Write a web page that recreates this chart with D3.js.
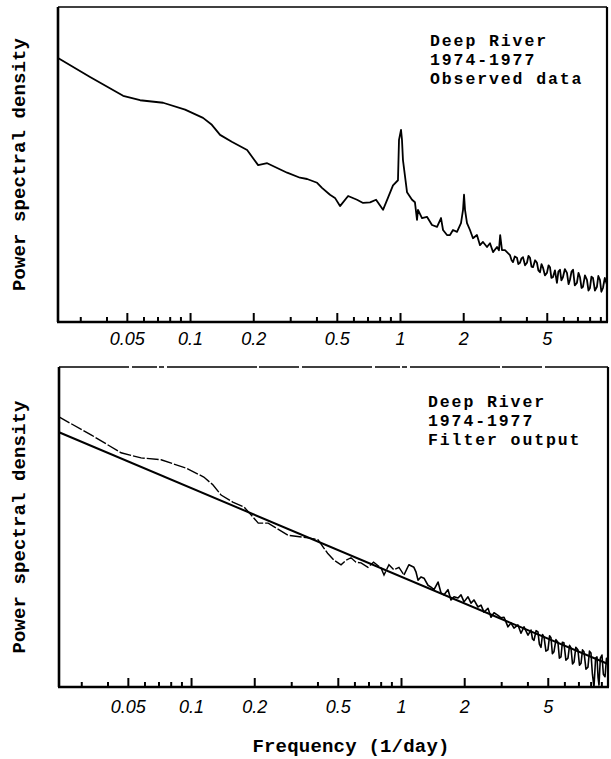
<!DOCTYPE html>
<html>
<head>
<meta charset="utf-8">
<script src="https://cdn.jsdelivr.net/npm/d3@7"></script>
<style>
    body { margin: 0; background: #fff; }
    svg { display: block; }
</style>
</head>
<body>
<div id="back"></div>
<script>

// Observed spectrum (log10 of power spectral density, arbitrary units)
var obsFreq = [0.0235, 0.0334, 0.0480, 0.0578, 0.0744, 0.0947, 0.1153, 0.127, 0.139, 0.158,
    0.187, 0.211, 0.233, 0.290, 0.334, 0.361, 0.403, 0.425, 0.464, 0.490,
    0.518, 0.566, 0.624, 0.667, 0.720, 0.769, 0.830, 0.876, 0.926, 0.978,
    0.989, 1.011, 1.022, 1.033, 1.080, 1.141, 1.178, 1.205, 1.218, 1.273,
    1.344, 1.420, 1.501, 1.568, 1.603, 1.674, 1.730, 1.788, 1.868, 1.952,
    1.996, 2.018, 2.04, 2.085, 2.154, 2.226, 2.325, 2.404, 2.484, 2.596,
    2.683, 2.773, 2.897, 2.96, 3.0, 3.06, 3.163, 3.341, 3.40, 3.453,
    3.52, 3.606, 3.66, 3.728, 3.79, 3.853, 3.94, 4.025, 4.09, 4.160,
    4.23, 4.30, 4.40, 4.49, 4.56, 4.642, 4.72, 4.80, 4.90, 5.01,
    5.10, 5.18, 5.26, 5.35, 5.47, 5.59, 5.68, 5.78, 5.87, 5.97,
    6.10, 6.24, 6.35, 6.45, 6.56, 6.67, 6.80, 6.96, 7.08, 7.20,
    7.32, 7.44, 7.60, 7.77, 7.90, 8.03, 8.16, 8.30, 8.48, 8.67,
    8.80, 8.96, 9.10, 9.26, 9.45, 9.68];
var obsPsd = [1.19, 0.89, 0.59, 0.52, 0.48, 0.37, 0.24, 0.13, -0.03, -0.14,
    -0.27, -0.51, -0.48, -0.63, -0.71, -0.73, -0.79, -0.87, -0.98, -1.03,
    -1.16, -1.00, -1.06, -1.11, -1.10, -1.06, -1.22, -1.03, -0.83, -0.75,
    -0.11, 0.05, -0.11, -0.43, -0.94, -1.06, -1.10, -1.38, -1.22, -1.35,
    -1.33, -1.46, -1.49, -1.35, -1.54, -1.62, -1.62, -1.54, -1.57, -1.43,
    -1.22, -0.98, -1.22, -1.43, -1.54, -1.67, -1.62, -1.78, -1.73, -1.81,
    -1.75, -1.89, -1.81, -1.86, -1.62, -1.86, -1.86, -1.94, -2.02, -2.05,
    -1.96, -1.98, -2.08, -2.06, -1.99, -1.97, -2.10, -2.06, -1.95, -1.98,
    -2.12, -2.13, -2.02, -2.06, -2.18, -2.21, -2.08, -2.14, -2.26, -2.22,
    -2.10, -2.13, -2.30, -2.29, -2.18, -2.38, -2.20, -2.17, -2.34, -2.29,
    -2.16, -2.22, -2.40, -2.33, -2.20, -2.17, -2.42, -2.38, -2.22, -2.29,
    -2.46, -2.44, -2.26, -2.33, -2.50, -2.46, -2.28, -2.30, -2.50, -2.44,
    -2.27, -2.33, -2.52, -2.46, -2.30, -2.41];

// Filter output spectrum
var filtFreq = [0.0235, 0.0334, 0.0464, 0.0578, 0.072, 0.0947, 0.115, 0.127, 0.139, 0.158,
    0.179, 0.193, 0.209, 0.233, 0.290, 0.361, 0.403, 0.425, 0.447, 0.48,
    0.518, 0.547, 0.578, 0.61, 0.645, 0.696, 0.74, 0.803, 0.830, 0.876,
    0.926, 0.978, 1.033, 1.09, 1.152, 1.178, 1.205, 1.245, 1.287, 1.344,
    1.389, 1.436, 1.501, 1.551, 1.603, 1.674, 1.730, 1.788, 1.868, 1.931,
    1.996, 2.085, 2.154, 2.226, 2.325, 2.404, 2.484, 2.596, 2.683, 2.773,
    2.897, 2.994, 3.095, 3.232, 3.341, 3.453, 3.606, 3.728, 3.853, 4.025,
    4.160, 4.23, 4.30, 4.40, 4.49, 4.56, 4.642, 4.72, 4.80, 4.90,
    5.01, 5.10, 5.18, 5.26, 5.35, 5.47, 5.59, 5.68, 5.78, 5.87,
    5.97, 6.10, 6.24, 6.35, 6.45, 6.56, 6.67, 6.80, 6.96, 7.08,
    7.20, 7.32, 7.44, 7.60, 7.77, 7.90, 8.03, 8.16, 8.30, 8.45,
    8.58, 8.68, 8.77, 8.90, 9.06, 9.20, 9.37, 9.52, 9.68];
var filtPsd = [1.22, 0.94, 0.66, 0.58, 0.55, 0.42, 0.28, 0.16, 0.00, -0.11,
    -0.19, -0.31, -0.44, -0.44, -0.63, -0.67, -0.70, -0.81, -0.91, -1.02,
    -1.09, -1.02, -0.98, -1.05, -1.06, -1.13, -1.05, -1.14, -1.25, -1.09,
    -1.17, -1.13, -1.25, -1.09, -1.13, -1.20, -1.33, -1.28, -1.30, -1.41,
    -1.44, -1.48, -1.36, -1.53, -1.56, -1.48, -1.64, -1.59, -1.61, -1.56,
    -1.67, -1.59, -1.69, -1.64, -1.75, -1.72, -1.83, -1.77, -1.91, -1.84,
    -1.88, -1.92, -1.91, -2.06, -2.00, -2.08, -2.03, -2.16, -2.06, -2.19,
    -2.11, -2.25, -2.27, -2.12, -2.14, -2.33, -2.38, -2.18, -2.22, -2.44,
    -2.42, -2.20, -2.23, -2.48, -2.45, -2.26, -2.30, -2.55, -2.53, -2.30,
    -2.31, -2.58, -2.55, -2.35, -2.39, -2.64, -2.61, -2.38, -2.42, -2.66,
    -2.63, -2.42, -2.45, -2.72, -2.69, -2.44, -2.47, -2.80, -3.00, -2.55,
    -2.53, -2.85, -2.97, -2.55, -2.50, -2.80, -2.84, -2.55, -2.58];

// Fitted straight line (filter model)
var fitFreq = [0.0235, 9.68];
var fitPsd = [0.98, -2.64];

// Axis ticks
var majorTicks = [0.05, 0.1, 0.2, 0.5, 1, 2, 5];
var majorLabels = ["0.05", "0.1", "0.2", "0.5", "1", "2", "5"];
var minorTicks = [0.03, 0.04, 0.06, 0.07, 0.08, 0.09, 0.3, 0.4, 0.6, 0.7, 0.8, 0.9, 3, 4, 6, 7, 8, 9];

var annotTop = ["Deep River", "1974-1977", "Observed data"];
var annotBottom = ["Deep River", "1974-1977", "Filter output"];


var chart = {

    settings : {
        width : 611,//px
        height : 759,//px
        freqDomain : [0.0235, 9.68],
        psdDomain : [-3, 2],
        dashBelow : 1.05,// filter curve is drawn broken below this frequency
        monoFont : "'Liberation Mono', 'DejaVu Sans Mono', monospace",
        tickFont : "'Liberation Sans', Arial, sans-serif",
    },

    addPanel : function(svg, p){

        var s = chart.settings;
        var g = svg.append("g");

        var x = d3.scaleLog().domain(s.freqDomain).range([p.left, p.right]);
        var y = d3.scaleLinear().domain(s.psdDomain).range([p.bottom, p.top]);

        // frame
        g.append("line")
            .attr("x1", p.left).attr("x2", p.right)
            .attr("y1", p.top).attr("y2", p.top)
            .attr("stroke", "#000").attr("stroke-width", 1.6)
            .attr("stroke-dasharray", p.topDash);
        g.append("line")
            .attr("x1", p.left).attr("x2", p.left)
            .attr("y1", p.top).attr("y2", p.bottom)
            .attr("stroke", "#000").attr("stroke-width", 2.6);
        g.append("line")
            .attr("x1", p.right).attr("x2", p.right)
            .attr("y1", p.top).attr("y2", p.bottom)
            .attr("stroke", "#000").attr("stroke-width", 2.2);
        g.append("line")
            .attr("x1", p.left - 1).attr("x2", p.right + 1)
            .attr("y1", p.bottom).attr("y2", p.bottom)
            .attr("stroke", "#000").attr("stroke-width", 2.4);

        // minor ticks, pointing inward
        var minorAxis = g.append("g")
            .attr("transform", "translate(0," + p.bottom + ")")
            .call(d3.axisBottom(x).tickValues(minorTicks).tickSize(-5).tickFormat(""));
        minorAxis.select(".domain").remove();
        minorAxis.selectAll("line").attr("stroke-width", 2);

        // major ticks with labels
        var majorAxis = g.append("g")
            .attr("transform", "translate(0," + p.bottom + ")")
            .call(d3.axisBottom(x).tickValues(majorTicks).tickSize(-9).tickPadding(p.labelPad)
                .tickFormat(function(d, i){ return majorLabels[i]; }));
        majorAxis.select(".domain").remove();
        majorAxis.selectAll("line").attr("stroke-width", 2);
        majorAxis.selectAll("text")
            .attr("font-family", s.tickFont)
            .attr("font-style", "italic")
            .attr("font-size", 18)
            .attr("fill", "#000");

        // curves
        var line = d3.line()
            .x(function(d){ return x(d[0]); })
            .y(function(d){ return y(d[1]); });

        p.series.forEach(function(sr){
            var pts = d3.zip(sr.freq, sr.psd);
            if(sr.dash){
                // broken line at low frequencies, solid through the noisy part
                var lo = pts.filter(function(d){ return d[0] <= s.dashBelow; });
                var hi = pts.filter(function(d){ return d[0] >= lo[lo.length - 1][0]; });
                g.append("path")
                    .attr("d", line(lo))
                    .attr("fill", "none").attr("stroke", "#000")
                    .attr("stroke-width", sr.width)
                    .attr("stroke-dasharray", sr.dash);
                g.append("path")
                    .attr("d", line(hi))
                    .attr("fill", "none").attr("stroke", "#000")
                    .attr("stroke-width", sr.width + 0.2)
                    .attr("stroke-linejoin", "round");
            }else{
                g.append("path")
                    .attr("d", line(pts))
                    .attr("fill", "none")
                    .attr("stroke", "#000")
                    .attr("stroke-width", sr.width)
                    .attr("stroke-linejoin", "round");
            }
        });

        // annotation, one text per line
        p.annot.forEach(function(txt, i){
            g.append("text")
                .attr("x", p.annotX)
                .attr("y", p.annotY + i * 19)
                .attr("font-family", s.monoFont)
                .attr("font-weight", "bold")
                .attr("font-size", 16.5)
                .attr("letter-spacing", 1.9)
                .attr("fill", "#000")
                .text(txt);
        });

        // y label
        g.append("text")
            .attr("transform", "translate(25," + ((p.top + p.bottom) / 2) + ") rotate(-90)")
            .attr("text-anchor", "middle")
            .attr("font-family", s.monoFont)
            .attr("font-weight", "bold")
            .attr("font-size", 19)
            .attr("letter-spacing", 0.1)
            .attr("fill", "#000")
            .text("Power spectral density");
    },

    draw : function(){
        var s = chart.settings;
        var svg = d3.select("#back").append("svg")
            .attr("width", s.width)
            .attr("height", s.height);

        chart.addPanel(svg, {
            left : 58, right : 607, top : 7, bottom : 322,
            labelPad : 10,
            topDash : null,
            annot : annotTop, annotX : 430, annotY : 46,
            series : [
                { freq : obsFreq, psd : obsPsd, width : 1.8 }
            ]
        });

        chart.addPanel(svg, {
            left : 59, right : 608, top : 367, bottom : 687,
            labelPad : 13,
            topDash : "70,3,25,2,5,3,90,2,40,3",
            annot : annotBottom, annotX : 428, annotY : 407,
            series : [
                { freq : fitFreq, psd : fitPsd, width : 2 },
                { freq : filtFreq, psd : filtPsd, width : 1.4, dash : "12,2" }
            ]
        });

        // x label
        svg.append("text")
            .attr("x", 351)
            .attr("y", 752)
            .attr("text-anchor", "middle")
            .attr("font-family", s.monoFont)
            .attr("font-weight", "bold")
            .attr("font-size", 19)
            .attr("letter-spacing", 0.2)
            .attr("fill", "#000")
            .text("Frequency (1/day)");
    }
}

chart.draw();

</script>
</body>
</html>
